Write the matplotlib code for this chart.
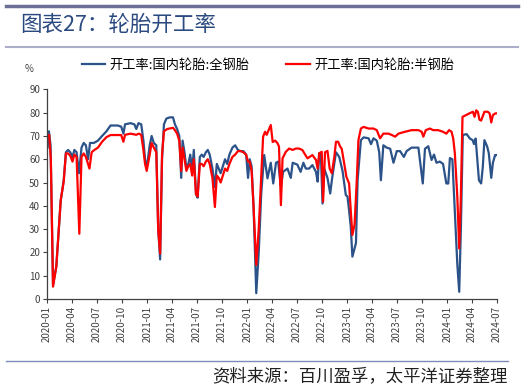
import matplotlib.pyplot as plt
import matplotlib.dates as mdates
import pandas as pd

plt.rcParams['font.family'] = ['Noto Sans CJK SC', 'DejaVu Sans']

# 开工率:国内轮胎:全钢胎
steel_dates = [
    '2020-01-03', '2020-01-08', '2020-01-14', '2020-01-23', '2020-02-04', '2020-02-20',
    '2020-03-02', '2020-03-10', '2020-03-18', '2020-03-26', '2020-04-03', '2020-04-10',
    '2020-04-18', '2020-04-27', '2020-05-06', '2020-05-14', '2020-05-22', '2020-05-30',
    '2020-06-06', '2020-06-20', '2020-07-05', '2020-07-20', '2020-08-05', '2020-08-20',
    '2020-09-15', '2020-09-28', '2020-10-06', '2020-10-12', '2020-11-01', '2020-11-15',
    '2020-11-22', '2020-11-30', '2020-12-10', '2020-12-18', '2020-12-24', '2020-12-30',
    '2021-01-10', '2021-01-17', '2021-01-25', '2021-02-03', '2021-02-10', '2021-02-17',
    '2021-02-24', '2021-03-03', '2021-03-12', '2021-03-25', '2021-04-05', '2021-04-12',
    '2021-04-20', '2021-04-28', '2021-05-05', '2021-05-10', '2021-05-17', '2021-05-24',
    '2021-05-31', '2021-06-07', '2021-06-14', '2021-06-20', '2021-06-28', '2021-07-04',
    '2021-07-12', '2021-07-19', '2021-07-26', '2021-08-03', '2021-08-10', '2021-08-17',
    '2021-08-27', '2021-09-05', '2021-09-12', '2021-09-19', '2021-09-26', '2021-10-04',
    '2021-10-12', '2021-10-20', '2021-10-28', '2021-11-08', '2021-11-18', '2021-11-28',
    '2021-12-08', '2021-12-18', '2021-12-28', '2022-01-04', '2022-01-10', '2022-01-17',
    '2022-01-24', '2022-02-03', '2022-02-12', '2022-02-21', '2022-03-04', '2022-03-16',
    '2022-03-28', '2022-04-06', '2022-04-16', '2022-04-24', '2022-05-04', '2022-05-12',
    '2022-05-28', '2022-06-09', '2022-06-16', '2022-07-03', '2022-07-15', '2022-07-25',
    '2022-08-03', '2022-08-15', '2022-08-27', '2022-09-09', '2022-09-15', '2022-09-21',
    '2022-09-27', '2022-10-03', '2022-10-09', '2022-10-21', '2022-10-31', '2022-11-06',
    '2022-11-21', '2022-12-03', '2022-12-15', '2022-12-27', '2023-01-02', '2023-01-08',
    '2023-01-14', '2023-01-20', '2023-02-02', '2023-02-08', '2023-02-20', '2023-03-02',
    '2023-03-20', '2023-03-29', '2023-04-07', '2023-04-19', '2023-04-28', '2023-05-04',
    '2023-05-13', '2023-05-25', '2023-06-07', '2023-06-19', '2023-07-01', '2023-07-13',
    '2023-07-27', '2023-08-06', '2023-08-24', '2023-09-18', '2023-10-04', '2023-10-12',
    '2023-10-24', '2023-11-05', '2023-11-14', '2023-11-23', '2023-12-05', '2023-12-17',
    '2023-12-29', '2024-01-05', '2024-01-11', '2024-01-20', '2024-01-29', '2024-02-07',
    '2024-02-14', '2024-02-20', '2024-02-27', '2024-03-12', '2024-03-24', '2024-04-03',
    '2024-04-08', '2024-04-14', '2024-04-26', '2024-05-04', '2024-05-10', '2024-05-16',
    '2024-05-26', '2024-06-01', '2024-06-10', '2024-06-16', '2024-06-24', '2024-06-29',
]
steel_values = [
    65, 72, 66, 6, 14, 42,
    51, 63, 64, 63, 61, 64,
    63, 54, 65, 67, 66, 60,
    67, 67, 68, 70, 72, 74.5,
    74.5, 74, 71, 75, 75.5, 75,
    73, 75.5, 75, 68, 60, 56,
    66, 70, 67, 66, 30, 17,
    60, 75, 77.5, 78, 78, 75,
    73, 70, 52, 68, 63, 56,
    58, 62, 55, 64, 45, 43.5,
    61, 62, 61, 63, 64, 62,
    56, 48, 58, 56, 54, 57,
    60, 58, 62, 65, 66, 64,
    63.5, 63.5, 62, 52, 60, 57,
    40, 2.5, 20, 45, 61.8, 51.8,
    58.5, 49.6, 58.5, 59, 48, 54.6,
    56, 52, 58.5, 57.7, 54.6, 58.5,
    56, 56, 57.5, 54.6, 50.4, 62.6,
    61.8, 41, 56, 52, 45.3, 51,
    63, 61, 55, 44.6, 44, 38,
    31, 18.2, 24, 51, 68.2, 69.4,
    69, 66.5, 69, 68, 63, 51,
    66, 65, 64.5, 58.5, 63.5, 63.5,
    61, 63.5, 65, 65, 49.6, 64.5,
    65.6, 59.7, 62, 58.5, 59, 58,
    49.6, 49.6, 60.5, 60, 37, 15,
    3.1, 30, 70.4, 70.8, 68.9, 68.2,
    66.5, 68.9, 51, 49.6, 56.5, 68.2,
    65.5, 62.6, 52, 58.5, 61.8, 61.8,
]

# 开工率:国内轮胎:半钢胎
semi_dates = [
    '2020-01-03', '2020-01-09', '2020-01-15', '2020-01-23', '2020-02-04', '2020-02-20',
    '2020-03-02', '2020-03-10', '2020-03-18', '2020-03-26', '2020-04-03', '2020-04-10',
    '2020-04-18', '2020-04-28', '2020-05-06', '2020-05-14', '2020-05-22', '2020-06-04',
    '2020-06-12', '2020-06-22', '2020-07-05', '2020-07-20', '2020-08-05', '2020-08-20',
    '2020-09-28', '2020-10-06', '2020-10-12', '2020-11-01', '2020-11-22', '2020-12-01',
    '2020-12-10', '2020-12-18', '2020-12-24', '2020-12-30', '2021-01-10', '2021-01-17',
    '2021-01-25', '2021-02-03', '2021-02-10', '2021-02-17', '2021-02-24', '2021-03-03',
    '2021-03-15', '2021-04-05', '2021-04-12', '2021-04-20', '2021-04-28', '2021-05-05',
    '2021-05-10', '2021-05-17', '2021-05-24', '2021-05-31', '2021-06-07', '2021-06-14',
    '2021-06-20', '2021-06-28', '2021-07-04', '2021-07-12', '2021-07-19', '2021-07-26',
    '2021-08-03', '2021-08-10', '2021-08-17', '2021-08-27', '2021-09-05', '2021-09-12',
    '2021-09-19', '2021-09-26', '2021-10-04', '2021-10-12', '2021-10-20', '2021-10-28',
    '2021-11-08', '2021-11-18', '2021-11-28', '2021-12-08', '2021-12-18', '2021-12-28',
    '2022-01-04', '2022-01-10', '2022-01-17', '2022-01-24', '2022-02-03', '2022-02-12',
    '2022-02-20', '2022-02-28', '2022-03-07', '2022-03-13', '2022-03-20', '2022-03-28',
    '2022-04-04', '2022-04-13', '2022-04-21', '2022-04-27', '2022-05-04', '2022-05-10',
    '2022-05-22', '2022-06-03', '2022-06-16', '2022-06-27', '2022-07-09', '2022-07-21',
    '2022-08-09', '2022-08-27', '2022-09-09', '2022-09-15', '2022-09-21', '2022-09-30',
    '2022-10-05', '2022-10-12', '2022-10-21', '2022-10-29', '2022-11-06', '2022-11-15',
    '2022-11-21', '2022-11-29', '2022-12-06', '2022-12-12', '2022-12-20', '2022-12-29',
    '2023-01-08', '2023-01-14', '2023-01-20', '2023-01-28', '2023-02-05', '2023-02-11',
    '2023-02-20', '2023-03-02', '2023-03-20', '2023-04-07', '2023-04-19', '2023-05-01',
    '2023-05-13', '2023-06-01', '2023-06-13', '2023-06-25', '2023-07-07', '2023-07-31',
    '2023-08-24', '2023-09-18', '2023-09-30', '2023-10-06', '2023-10-15', '2023-10-30',
    '2023-11-11', '2023-11-29', '2023-12-17', '2023-12-29', '2024-01-08', '2024-01-17',
    '2024-01-23', '2024-01-29', '2024-02-07', '2024-02-14', '2024-02-20', '2024-02-26',
    '2024-03-10', '2024-03-22', '2024-04-04', '2024-04-10', '2024-04-16', '2024-04-22',
    '2024-04-28', '2024-05-04', '2024-05-16', '2024-05-28', '2024-06-04', '2024-06-10',
    '2024-06-16', '2024-06-25', '2024-06-29',
]
semi_values = [
    70, 70.5, 60, 5.3, 14, 42.5,
    50.4, 62.5, 62.5, 61.5, 59, 62,
    61, 28, 61, 62.5, 61, 56,
    63, 64, 65, 67.5, 69.5, 70.4,
    70.4, 67.5, 70.5, 71, 70.5, 71,
    70.5, 64, 58, 55, 62, 67,
    65, 63, 30, 19.5, 62, 72,
    73, 73.5, 72.5, 71, 68, 55,
    65, 60, 55, 57, 58, 53,
    60, 45, 44, 58, 58, 57,
    59, 60, 58, 52, 39.5, 53,
    52, 50, 53, 56, 55, 58,
    61, 62, 63.5, 63.5, 63, 62,
    59, 59, 55, 40, 14.6, 30,
    50, 69.7, 71.8, 70.5, 72.5, 74.7,
    67.4, 68, 67, 65.5, 40.3, 60.4,
    63.2, 64.6, 64, 64.6, 64.6, 64,
    60.4, 61.8, 59.7, 56, 62.6, 63.2,
    41.8, 63, 63.6, 56, 54, 61,
    67.5, 67.5, 65.5, 64.5, 59, 52.5,
    49.6, 38, 27.5, 32, 51, 68.2,
    73.2, 73.9, 73.2, 73.2, 72.5, 69,
    71, 71, 70.4, 69.7, 71, 71.8,
    72.5, 72.5, 71.8, 69.7, 72.5, 73.2,
    72.5, 72.5, 71.8, 71, 72.5, 71.8,
    69, 62.6, 44, 21.7, 44, 78.2,
    79, 79.7, 80.4, 78.2, 81, 80.4,
    77, 76.6, 80.4, 80.4, 79.7, 75.8,
    79, 79.7, 79.7,
]

y_ticks = [0, 10, 20, 30, 40, 50, 60, 70, 80, 90]
x_ticks = pd.date_range('2020-01-01', '2024-07-01', freq='3MS')

fig = plt.figure(figsize=(5.24, 3.88), dpi=100)
ax = fig.add_axes([0.0897, 0.2294, 0.8588, 0.5402])

ax.plot(pd.to_datetime(steel_dates), steel_values, color='#2b5289', lw=1.6,
        label='开工率:国内轮胎:全钢胎')
ax.plot(pd.to_datetime(semi_dates), semi_values, color='#ff0000', lw=1.6,
        label='开工率:国内轮胎:半钢胎')

ax.set_xlim(pd.Timestamp('2020-01-01'), pd.Timestamp('2024-07-01'))
ax.set_ylim(0, 90)
ax.set_yticks(y_ticks)
ax.set_xticks(x_ticks)
ax.xaxis.set_major_formatter(mdates.DateFormatter('%Y-%m'))
for lab in ax.get_xticklabels():
    lab.set_rotation(90)

ax.spines['top'].set_visible(False)
ax.spines['right'].set_visible(False)
for s in ('left', 'bottom'):
    ax.spines[s].set_color('#404040')
    ax.spines[s].set_linewidth(0.9)
ax.tick_params(axis='both', labelsize=7, colors='#404040', length=3, width=0.8,
               direction='out', pad=2)

ax.legend(loc='lower left', bbox_to_anchor=(0.065, 1.06), ncol=2, frameon=False,
          fontsize=9.5, handlelength=1.8, handletextpad=0.3, columnspacing=2.8,
          borderaxespad=0)

fig.text(25 / 524, 1 - 69 / 388, '%', fontsize=7, color='#404040', va='center')

# header and footer
fig.add_artist(plt.Line2D([0.011, 0.988], [1 - 6 / 388] * 2, color='#6d6f96', lw=2.5))
fig.add_artist(plt.Line2D([0.011, 0.988], [1 - 47 / 388] * 2, color='#acaec9', lw=1.5))
fig.add_artist(plt.Line2D([0.011, 0.97], [1 - 361 / 388] * 2, color='#7f8cbb', lw=1))
fig.text(20 / 524, 1 - 25 / 388, '图表27：轮胎开工率', fontsize=15.5, color='#2b4a80',
         va='center', ha='left')
fig.text(508 / 524, 1 - 376 / 388, '资料来源：百川盈孚，太平洋证券整理', fontsize=12.5,
         color='#202020', va='center', ha='right')

fig.savefig('out.png', dpi=100)
